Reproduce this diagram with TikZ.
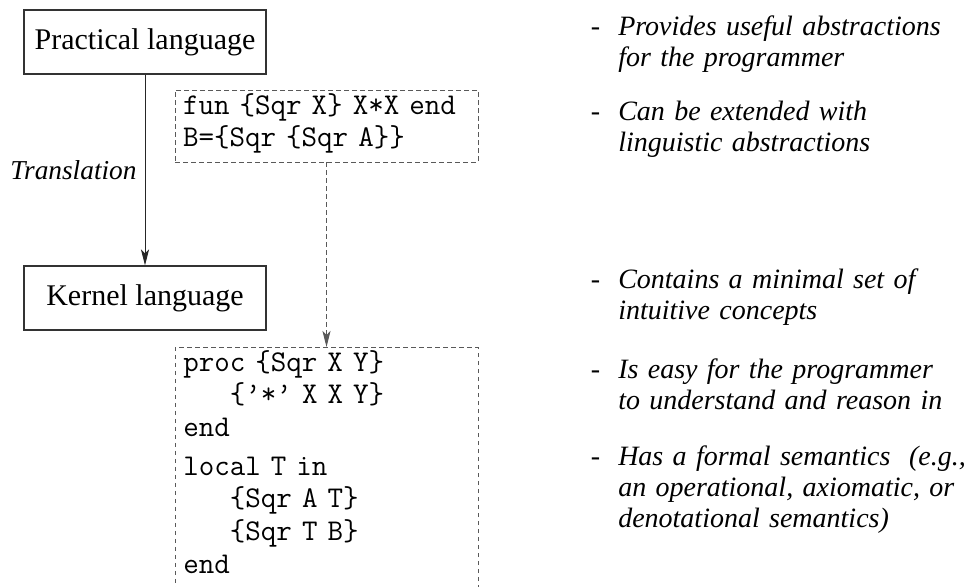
\documentclass[tikz,border=0pt]{standalone}
\usepackage{fontspec}
\setmainfont{Liberation Serif}
\usetikzlibrary{arrows.meta}

\tikzset{
  langbox/.style={draw=black!80, line width=0.8pt, minimum width=181.5pt,
    minimum height=48pt, inner sep=0pt, font=\fontsize{22.5}{27}\selectfont},
  codebox/.style={draw=black!65, line width=0.7pt, dash pattern=on 3.4pt off 2.6pt},
  codetext/.style={font=\codefont, align=left, inner sep=0pt},
  note/.style={font=\fontsize{21}{23.4}\selectfont\itshape, anchor=base west,
    text width=270pt, align=left, inner sep=0pt},
  transarrow/.style={draw=black!85, line width=0.7pt,
    -{Stealth[length=12pt, width=6pt, inset=3pt]}},
  codearrow/.style={codebox, -{Stealth[length=12pt, width=6pt, inset=3pt]}},
}
% monospaced, with every blank as wide as a letter
\newcommand{\codefont}{\fontsize{22.6}{24.5}\selectfont\ttfamily
  \fontdimen2\font=\fontcharwd\font`x \fontdimen3\font=0pt \fontdimen4\font=0pt }
\newcommand{\codeindent}{\hspace*{35pt}}
\newcommand{\itemdash}{\llap{\upshape -\hspace{13.5pt}}}

\begin{document}
\begin{tikzpicture}[x=0.75pt, y=-0.75pt]
	\clip (0,0) rectangle (966,586);
	% languages
	\node [langbox] at (145,42) (plang) {Practical language};
	\node [langbox] at (145,298) (klang) {Kernel language};
	\draw [transarrow] (plang) -- node [midway, left, inner sep=6pt,
		font=\fontsize{20.5}{24}\selectfont\itshape] (trans) {Translation} (klang);
	
	% program before and after translation
	\node [codebox, minimum width=227.25pt, minimum height=54pt, inner xsep=6pt,
		text width=215.25pt, codetext, text height=18pt, text depth=36pt]
		at (326.5,126) (pcode)
		{fun \{Sqr X\} X*X end\\B=\{Sqr \{Sqr A\}\}};
	\node [codebox, anchor=north, minimum width=227.25pt, minimum height=200pt]
		at (326.5,347) (kbox) {};
	\node [codetext, anchor=base west, text width=215pt] at (183,371) (kcode)
		{proc \{Sqr X Y\}\\
		\codeindent\{’*’ X X Y\}\\
		end\\[4.5pt]
		local T in\\
		\codeindent\{Sqr A T\}\\
		\codeindent\{Sqr T B\}\\
		end};
	\draw [codearrow] (pcode) -- (kbox);
	
	% properties
	\node [note] at (618,35) (n1) {\itemdash Provides useful abstractions\\for the programmer};
	\node [note] at (618,120) (n2) {\itemdash Can be extended with\\linguistic abstractions};
	\node [note] at (618,288) (n3) {\itemdash Contains a minimal set of\\intuitive concepts};
	\node [note] at (618,378) (n4) {\itemdash Is easy for the programmer\\to understand and reason in};
	\node [note] at (618,465) (n5) {\itemdash Has a formal semantics\ \ (e.g.,\\an operational, axiomatic, or\\denotational semantics)};
\end{tikzpicture}
\end{document}
